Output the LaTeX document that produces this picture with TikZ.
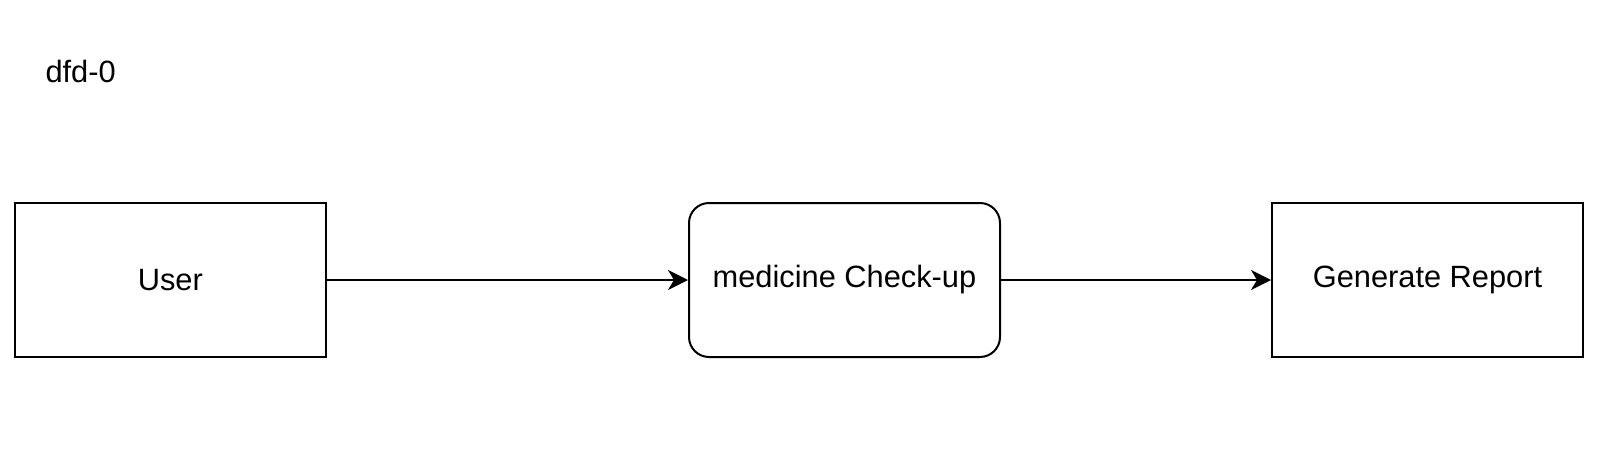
\documentclass[tikz,border=0pt]{standalone}
\usepackage{fontspec}
\setmainfont{Liberation Sans}
\usetikzlibrary{arrows.meta}

\begin{document}
\begin{tikzpicture}[x=1pt,y=-1pt,font=\fontsize{30.8}{36}\selectfont,
    >={Stealth[length=20pt,width=20pt,inset=6pt]},
    entity/.style={draw,line width=2pt,minimum width=311pt,minimum height=154pt,inner sep=0pt},
    process/.style={entity,rounded corners=20pt},
    flow/.style={->,line width=2pt}]
    \useasboundingbox (0,0) rectangle (1614,466);

    \node[anchor=west] (title) at (42,71) {dfd-0};

    \node[entity] (user) at (170.3,280) {User};
    \node[process] (check) at (844.5,280) {medicine Check-up};
    \node[entity] (report) at (1427.5,280) {Generate Report};

    \draw[flow] (user) -- (check);
    \draw[flow] (check) -- (report);
\end{tikzpicture}
\end{document}
